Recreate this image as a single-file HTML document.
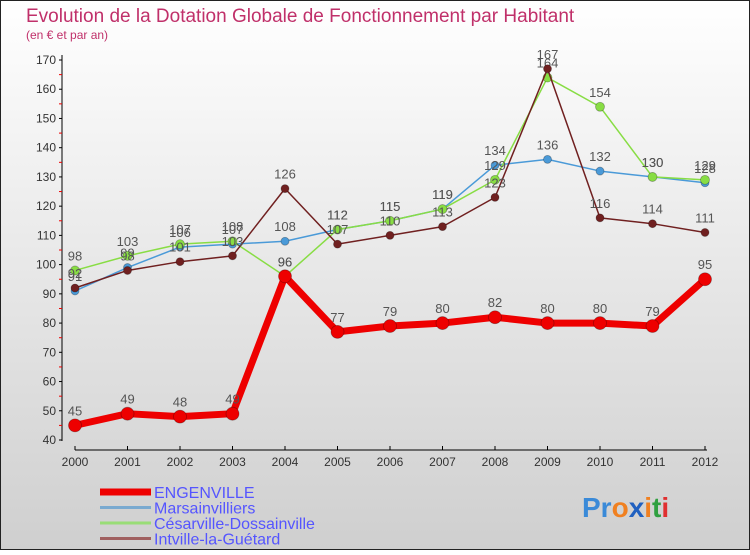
<!DOCTYPE html>
<html><head><meta charset="utf-8"><style>
body{margin:0;width:750px;height:550px;overflow:hidden;font-family:"Liberation Sans",sans-serif}
</style></head><body>
<svg width="750" height="550" xmlns="http://www.w3.org/2000/svg">
<defs><linearGradient id="bg" x1="0" y1="0" x2="0" y2="1"><stop offset="0" stop-color="#ffffff"/><stop offset="1" stop-color="#cfcfcf"/></linearGradient></defs>
<rect x="0.5" y="0.5" width="749" height="549" fill="url(#bg)" stroke="#222"/>
<text x="26" y="22" font-size="19" fill="#c0306a">Evolution de la Dotation Globale de Fonctionnement par Habitant</text>
<text x="26" y="39" font-size="12" fill="#c0306a">(en € et par an)</text>
<g id="axes"></g>
<g id="series"></g>
<g id="legend" font-size="16" fill="#5555ff"></g>
<text x="582" y="517" font-size="28" font-weight="bold"><tspan fill="#3a8ad8">Pr</tspan><tspan fill="#f08020">o</tspan><tspan fill="#2060c0">x</tspan><tspan fill="#f08020">i</tspan><tspan fill="#30a040">t</tspan><tspan fill="#e03030">i</tspan></text>
</svg>
<script>
const years=[2000,2001,2002,2003,2004,2005,2006,2007,2008,2009,2010,2011,2012];
const engenville=[45,49,48,49,96,77,79,80,82,80,80,79,95];
const marsainvilliers=[91,99,106,107,108,112,115,119,134,136,132,130,128];
const cesarville=[98,103,107,108,96,112,115,119,129,164,154,130,129];
const intville=[92,98,101,103,126,107,110,113,123,167,116,114,111];
const yTicks=[40,50,60,70,80,90,100,110,120,130,140,150,160,170];
const NS="http://www.w3.org/2000/svg";
const xS=i=>75+i*52.5;
const yS=v=>440-(v-40)*380/130;
function el(t,a,p){const e=document.createElementNS(NS,t);for(const k in a)e.setAttribute(k,a[k]);p.appendChild(e);return e;}
const ax=document.getElementById('axes');
let e=el('line',{x1:62,y1:55,x2:62,y2:441,stroke:'#000'},ax);


e=el('line',{x1:75,y1:450,x2:707,y2:450,stroke:'#000'},ax);


yTicks.forEach(v=>{
 const y=yS(v);
 el('line',{x1:59,y1:y,x2:62,y2:y,stroke:'#000'},ax);
 if(v<170){el('line',{x1:59,y1:y-14.6,x2:62,y2:y-14.6,stroke:'#e00'},ax);}
 const t=el('text',{x:56,y:y+4,'text-anchor':'end','font-size':12,fill:'#333'},ax);
 t.textContent=v;
 
 
});
years.forEach((yr,i)=>{
 el('line',{x1:xS(i),y1:446,x2:xS(i),y2:450,stroke:'#000'},ax);
 const t=el('text',{x:xS(i),y:466,'text-anchor':'middle','font-size':12,fill:'#333'},ax);
 t.textContent=yr;
 
 
});
const sg=document.getElementById('series');
function draw(data,color,w,r,name){
 const g=el('g',{},sg);
 
 
 const l=el('polyline',{points:data.map((v,i)=>xS(i)+','+yS(v)).join(' '),fill:'none',stroke:color,'stroke-width':w,'stroke-linejoin':'round'},g);
 
 
 data.forEach((v,i)=>{
  const c=el('circle',{cx:xS(i),cy:yS(v),r:r,fill:color,stroke:'rgba(0,0,0,0.3)','stroke-width':0.8},g);
  
  
  const t=el('text',{x:xS(i),y:yS(v)-10,'text-anchor':'middle','font-size':13,fill:'#555'},g);
  t.textContent=v;
  
  
 });
}
draw(marsainvilliers,'#4a9ad8',1.5,4,'marsainvilliers');
draw(cesarville,'#88dd44',1.5,4.5,'cesarville-dossainville');
draw(intville,'#702020',1.5,4,'intville-la-guetard');
draw(engenville,'#ee0000',7,6.5,'engenville');
const lg=document.getElementById('legend');
const items=[['ENGENVILLE','#ee0000',7],['Marsainvilliers','#7aaad0',3],['Césarville-Dossainville','#99dd77',3],['Intville-la-Guétard','#a06060',3]];
items.forEach((it,k)=>{
 const y=492+k*15.5;
 const g=el('g',{},lg);
 
 
 el('line',{x1:100,y1:y,x2:151,y2:y,stroke:it[1],'stroke-width':it[2]},g);
 const t=el('text',{x:154,y:y+6},g);
 t.textContent=it[0];
});
</script>
</body></html>
